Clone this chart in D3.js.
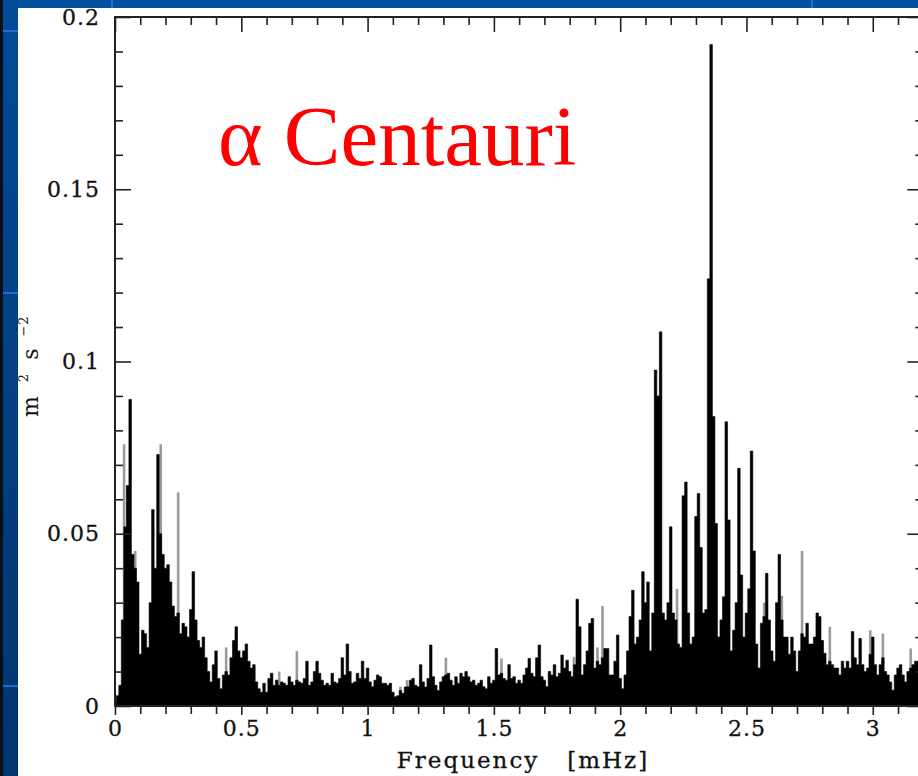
<!DOCTYPE html>
<html>
<head>
<meta charset="utf-8">
<script src="https://cdn.jsdelivr.net/npm/d3@7"></script>
<style>
  body { margin: 0; background: #fff; }
  svg { display: block; }
  .tick text { font-family: 'DejaVu Serif', serif; font-size: 22px; letter-spacing: 1px; fill: #111; stroke: #111; stroke-width: 0.3; }
  .axis path { display: none; }
  .axis line { stroke: #222; stroke-width: 1.6; }
</style>
</head>
<body>
<svg width="918" height="776"></svg>
<script>
// spectrum sampled every 0.01 mHz, starting at 0 (m^2 s^-2)
const freqStep = 0.01
const blackPower = [
  0.001, 0.003, 0.006, 0.025, 0.052, 0.064, 0.089, 0.044, 0.040, 0.036,
  0.015, 0.022, 0.021, 0.017, 0.030, 0.057, 0.040, 0.073, 0.050, 0.044,
  0.040, 0.041, 0.036, 0.029, 0.026, 0.027, 0.021, 0.024, 0.023, 0.020,
  0.028, 0.039, 0.025, 0.019, 0.017, 0.020, 0.014, 0.010, 0.007, 0.012,
  0.016, 0.008, 0.005, 0.009, 0.010, 0.009, 0.014, 0.019, 0.023, 0.016,
  0.014, 0.016, 0.018, 0.013, 0.011, 0.012, 0.007, 0.005, 0.004, 0.0066,
  0.004, 0.008, 0.0095, 0.006, 0.0075, 0.006, 0.007, 0.0066, 0.006, 0.0085,
  0.007, 0.006, 0.0075, 0.007, 0.0066, 0.008, 0.013, 0.006, 0.007, 0.010,
  0.013, 0.0095, 0.0075, 0.006, 0.0066, 0.006, 0.0095, 0.007, 0.0066, 0.008,
  0.014, 0.009, 0.018, 0.010, 0.0066, 0.007, 0.0095, 0.008, 0.013, 0.008,
  0.011, 0.007, 0.0056, 0.0075, 0.009, 0.0085, 0.0066, 0.0066, 0.006, 0.0066,
  0.004, 0.0027, 0.003, 0.0045, 0.0037, 0.0055, 0.0056, 0.0075, 0.008, 0.006,
  0.0056, 0.012, 0.007, 0.0055, 0.008, 0.0177, 0.0085, 0.006, 0.0045, 0.007,
  0.0085, 0.009, 0.0095, 0.0075, 0.006, 0.0085, 0.0066, 0.0095, 0.0085, 0.010,
  0.0085, 0.007, 0.0075, 0.006, 0.0066, 0.0075, 0.0056, 0.005, 0.0085, 0.0066,
  0.0075, 0.0167, 0.009, 0.0095, 0.008, 0.0075, 0.012, 0.008, 0.0085, 0.0066,
  0.0075, 0.0066, 0.009, 0.011, 0.0138, 0.0095, 0.0085, 0.014, 0.0177, 0.0085,
  0.0075, 0.0056, 0.010, 0.009, 0.012, 0.0085, 0.0095, 0.0148, 0.011, 0.0133,
  0.010, 0.0085, 0.012, 0.031, 0.023, 0.009, 0.012, 0.016, 0.024, 0.0254,
  0.011, 0.013, 0.012, 0.014, 0.0167, 0.0167, 0.009, 0.009, 0.013, 0.0206,
  0.008, 0.005, 0.009, 0.016, 0.026, 0.0336, 0.018, 0.020, 0.025, 0.039,
  0.030, 0.036, 0.016, 0.027, 0.0975, 0.090, 0.1086, 0.027, 0.025, 0.030,
  0.052, 0.027, 0.025, 0.018, 0.017, 0.061, 0.065, 0.027, 0.018, 0.020,
  0.055, 0.0617, 0.046, 0.027, 0.028, 0.124, 0.192, 0.084, 0.053, 0.020,
  0.025, 0.0317, 0.0825, 0.054, 0.016, 0.022, 0.030, 0.069, 0.038, 0.020,
  0.027, 0.034, 0.074, 0.045, 0.018, 0.011, 0.024, 0.026, 0.0385, 0.025,
  0.016, 0.013, 0.030, 0.044, 0.025, 0.020, 0.020, 0.015, 0.020, 0.016,
  0.010, 0.016, 0.021, 0.020, 0.024, 0.018, 0.018, 0.020, 0.027, 0.026,
  0.019, 0.0153, 0.012, 0.013, 0.012, 0.011, 0.011, 0.009, 0.013, 0.011,
  0.013, 0.011, 0.0216, 0.014, 0.012, 0.0196, 0.012, 0.010, 0.011, 0.015,
  0.020, 0.012, 0.009, 0.012, 0.014, 0.010, 0.009, 0.007, 0.0046, 0.009,
  0.011, 0.012, 0.009, 0.007, 0.010, 0.011, 0.012, 0.013, 0.013, 0.010,
  0.010
]

// second (gray) spectrum: only the peaks that show above the black one
const grayFreq = [0.036, 0.08, 0.181, 0.25, 0.44, 0.65, 0.72, 1.13, 1.156, 1.31,
  1.53, 1.817, 1.91, 1.93, 2.067, 2.225, 2.57, 2.64, 2.72, 2.83, 2.99, 3.04, 3.15]
const grayPower = [0.076, 0.045, 0.076, 0.062, 0.017, 0.010, 0.016, 0.0056, 0.0075, 0.014,
  0.0138, 0.0143, 0.017, 0.029, 0.020, 0.034, 0.030, 0.032, 0.045, 0.023, 0.022, 0.021, 0.0167]

const xMajor = [0, 0.5, 1, 1.5, 2, 2.5, 3]
const xLabels = ['0', '0.5', '1', '1.5', '2', '2.5', '3']
const yMajor = [0, 0.05, 0.1, 0.15, 0.2]
const yLabels = ['0', '0.05', '0.1', '0.15', '0.2']

const svg = d3.select('svg')

// slide background bits
const defs = svg.append('defs')
const strip = defs.append('linearGradient')
  .attr('id', 'strip')
  .attr('x1', 0).attr('y1', 0).attr('x2', 0).attr('y2', 1)
strip.append('stop').attr('offset', '0%').attr('stop-color', '#004c98')
strip.append('stop').attr('offset', '100%').attr('stop-color', '#00356e')

svg.append('rect').attr('x', 0).attr('y', 0).attr('width', 918).attr('height', 8).attr('fill', '#0050a0')
svg.append('rect').attr('x', 0).attr('y', 0).attr('width', 18).attr('height', 776).attr('fill', 'url(#strip)')
svg.append('rect').attr('x', 0).attr('y', 0).attr('width', 3).attr('height', 776).attr('fill', '#0a0f1a')
;[30, 292, 685].forEach(yy => {
  svg.append('rect').attr('x', 3).attr('y', yy).attr('width', 15).attr('height', 2).attr('fill', '#1f6fd0')
})
;[111, 811].forEach(xx => {
  svg.append('rect').attr('x', xx).attr('y', 0).attr('width', 2).attr('height', 8).attr('fill', '#1f6fd0')
})

const x = d3.scaleLinear().domain([0, 3.2]).range([115, 923.3])
const y = d3.scaleLinear().domain([0, 0.2]).range([706, 17])

const plot = svg.append('g')

// gray peaks behind
plot.selectAll('.gray')
  .data(grayFreq)
  .enter()
  .append('line')
  .attr('class', 'gray')
  .attr('x1', d => x(d))
  .attr('x2', d => x(d))
  .attr('y1', y(0))
  .attr('y2', (d, i) => y(grayPower[i]))
  .attr('stroke', '#9a9a9a')
  .attr('stroke-width', 2.6)

// black spectrum as a stepped area, so neighbouring bins touch
const spectrum = d3.area()
  .x((d, i) => x(i * freqStep))
  .y0(y(0))
  .y1(d => y(d))
  .curve(d3.curveStep)

plot.append('path')
  .datum(blackPower)
  .attr('d', spectrum)
  .attr('fill', '#000')
  .attr('stroke', '#000')
  .attr('stroke-width', 0.6)

// frame
svg.append('rect')
  .attr('x', x(0)).attr('y', y(0.2))
  .attr('width', x(3.2) - x(0)).attr('height', y(0) - y(0.2))
  .attr('fill', 'none').attr('stroke', '#222').attr('stroke-width', 2)

const xMinor = d3.range(0, 33).map(i => i / 10).filter(v => !xMajor.some(m => Math.abs(m - v) < 1e-9))
const yMinor = d3.range(0, 21).map(i => i / 100).filter(v => !yMajor.some(m => Math.abs(m - v) < 1e-9))

// bottom axis
svg.append('g')
  .attr('class', 'axis')
  .attr('transform', `translate(0, ${y(0)})`)
  .call(d3.axisBottom(x).tickValues(xMajor).tickSize(9).tickPadding(5).tickFormat((d, i) => xLabels[i]))
svg.append('g')
  .attr('class', 'axis')
  .attr('transform', `translate(0, ${y(0)})`)
  .call(d3.axisBottom(x).tickValues(xMinor).tickSize(8).tickFormat(''))

// top axis, ticks inward
svg.append('g')
  .attr('class', 'axis')
  .attr('transform', `translate(0, ${y(0.2)})`)
  .call(d3.axisTop(x).tickValues(xMajor).tickSize(-15).tickFormat(''))
svg.append('g')
  .attr('class', 'axis')
  .attr('transform', `translate(0, ${y(0.2)})`)
  .call(d3.axisTop(x).tickValues(xMinor).tickSize(-8).tickFormat(''))

// left axis, ticks inward
svg.append('g')
  .attr('class', 'axis')
  .attr('transform', `translate(${x(0)}, 0)`)
  .call(d3.axisLeft(y).tickValues(yMajor).tickSize(-16).tickPadding(15).tickFormat((d, i) => yLabels[i]))
svg.append('g')
  .attr('class', 'axis')
  .attr('transform', `translate(${x(0)}, 0)`)
  .call(d3.axisLeft(y).tickValues(yMinor).tickSize(-8).tickFormat(''))

// right axis
svg.append('g')
  .attr('class', 'axis')
  .attr('transform', `translate(${x(3.2)}, 0)`)
  .call(d3.axisRight(y).tickValues(yMajor).tickSize(-16).tickFormat(''))
svg.append('g')
  .attr('class', 'axis')
  .attr('transform', `translate(${x(3.2)}, 0)`)
  .call(d3.axisRight(y).tickValues(yMinor).tickSize(-8).tickFormat(''))

// axis titles
svg.append('text')
  .attr('x', 523)
  .attr('y', 768)
  .attr('text-anchor', 'middle')
  .attr('font-family', 'DejaVu Serif, serif')
  .attr('font-size', 23)
  .attr('letter-spacing', 2)
  .attr('fill', '#111')
  .attr('stroke', '#111')
  .attr('stroke-width', 0.3)
  .attr('xml:space', 'preserve')
  .text('Frequency   [mHz]')

const yt = svg.append('text')
  .attr('transform', 'translate(38, 417) rotate(-90)')
  .attr('text-anchor', 'start')
  .attr('font-family', 'DejaVu Serif, serif')
  .attr('font-size', 22)
  .attr('fill', '#111')
yt.append('tspan').text('m')
yt.append('tspan').attr('dx', 14).attr('dy', -10).attr('font-size', 13).text('2')
yt.append('tspan').attr('dx', 14).attr('dy', 10).text('s')
yt.append('tspan').attr('dx', 12).attr('dy', -10).attr('font-size', 13).text('\u2212')
yt.append('tspan').attr('dx', 1).attr('font-size', 13).text('2')

// star name
svg.append('text')
  .attr('x', 218)
  .attr('y', 165)
  .attr('font-family', 'Liberation Serif, Times New Roman, serif')
  .attr('font-size', 85)
  .attr('fill', '#ff0000')
  .text('\u03b1 Centauri')
</script>
</body>
</html>
